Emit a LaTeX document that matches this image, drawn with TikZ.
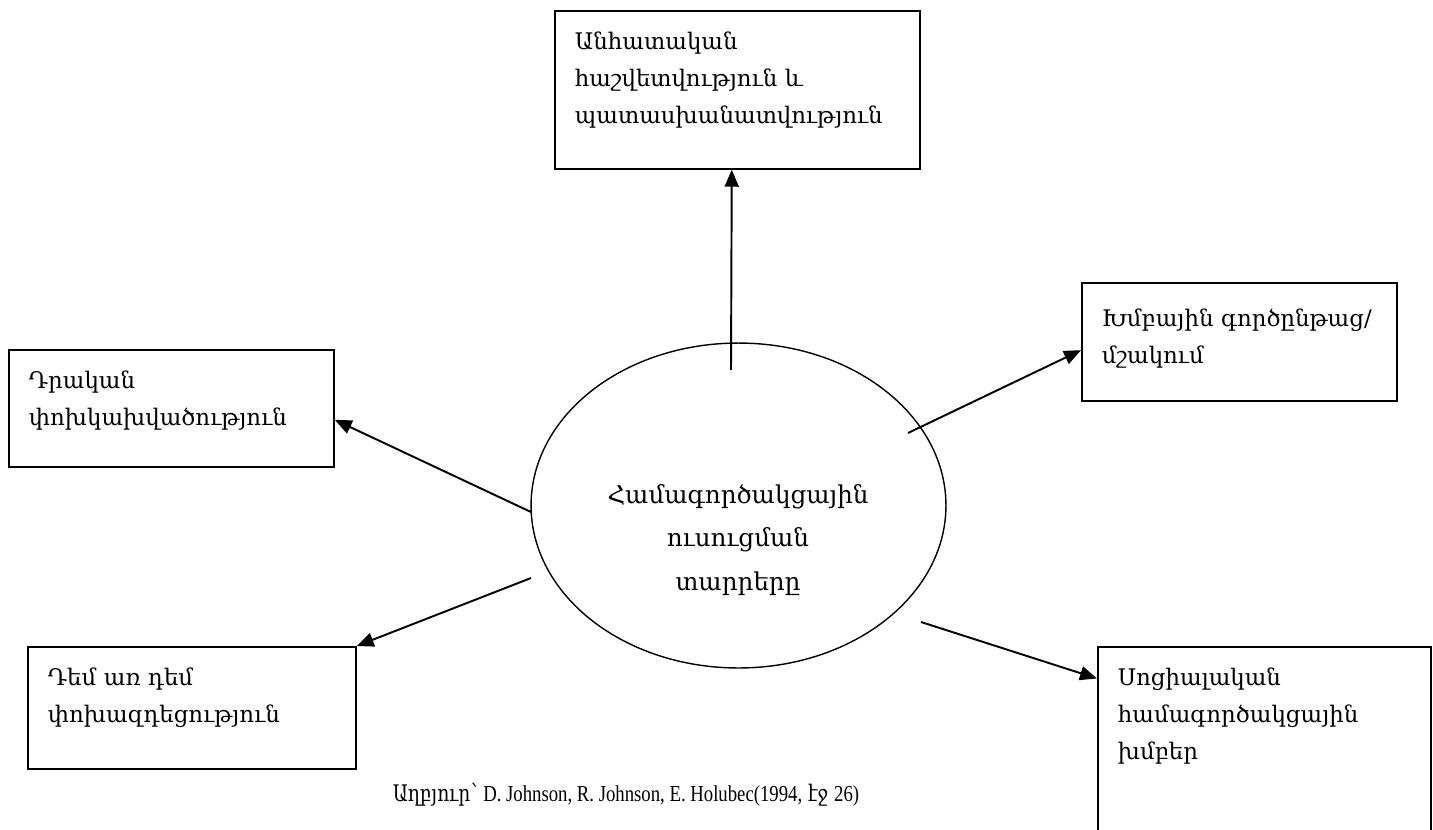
\documentclass[tikz,border=0pt]{standalone}
\usepackage{fontspec}
\setmainfont{DejaVu Serif}
\newfontfamily\srcarm[FakeStretch=0.82]{DejaVu Serif}
\newfontfamily\srclat[FakeStretch=0.82]{Liberation Serif}
\usepackage{tikz}
\usetikzlibrary{shapes.geometric}
\usetikzlibrary{arrows.meta}

\tikzset{
  box/.style={draw, line width=1pt, anchor=north west, align=left, inner xsep=0.4cm, inner ysep=0pt,
    font=\fontsize{13}{21}\selectfont},
  arr/.style={line width=1.1pt, -{Triangle[length=0.34cm, width=0.28cm]}}
}

\begin{document}
\begin{tikzpicture}[x=0.02cm, y=-0.02cm]
  \clip (0,0) rectangle (1433,829); % marco
  \node[box, text width=6.5cm, text height=0.78cm, text depth=2.38cm] (boxT) at (554,10)
    {Անհատական\\ հաշվետվություն և\\ պատասխանատվություն};
  \node[box, text width=5.7cm, text height=0.78cm, text depth=1.56cm] (boxL) at (8,349)
    {Դրական\\ փոխկախվածություն};
  \node[box, text width=5.5cm, text height=0.88cm, text depth=1.48cm] (boxR) at (1081,282)
    {Խմբային գործընթաց/\\ մշակում};
  \node[box, text width=5.76cm, text height=0.78cm, text depth=1.66cm] (boxBL) at (27,646)
    {Դեմ առ դեմ\\ փոխազդեցություն};
  \node[box, text width=5.86cm, text height=0.78cm, text depth=5cm] (boxBR) at (1097,646)
    {Սոցիալական\\ համագործակցային\\ խմբեր};
  % elipse central
  \node[draw, ellipse, line width=0.8pt, minimum width=8.3cm, minimum height=6.5cm, inner sep=0pt] (elem) at (738.5,505.5) {};
  \node[align=center, font=\fontsize{14}{24.5}\selectfont] (elemtxt) at (738,540)
    {Համագործակցային\\ ուսուցման\\ տարրերը};
  \coordinate (sT) at (731,370);
  \coordinate (sR) at (908,433);
  \coordinate (sL) at (531,512);
  \coordinate (sBL) at (531,578);
  \coordinate (sBR) at (921,622);
  \draw[arr] (sT) -- (boxT.266);
  \draw[arr] (sR) -- (boxR.183);
  \draw[arr] (sL) -- (boxL.-4);
  \draw[arr] (sBL) -- (boxBL.north east);
  \draw[arr] (sBR) -- (boxBR.146);
  \node[font=\fontsize{13}{18}\selectfont] (src) at (626,795)
    {\srcarm Աղբյուր՝ {\srclat D. Johnson, R. Johnson, E. Holubec(1994,} էջ {\srclat 26)}};
\end{tikzpicture}
\end{document}
